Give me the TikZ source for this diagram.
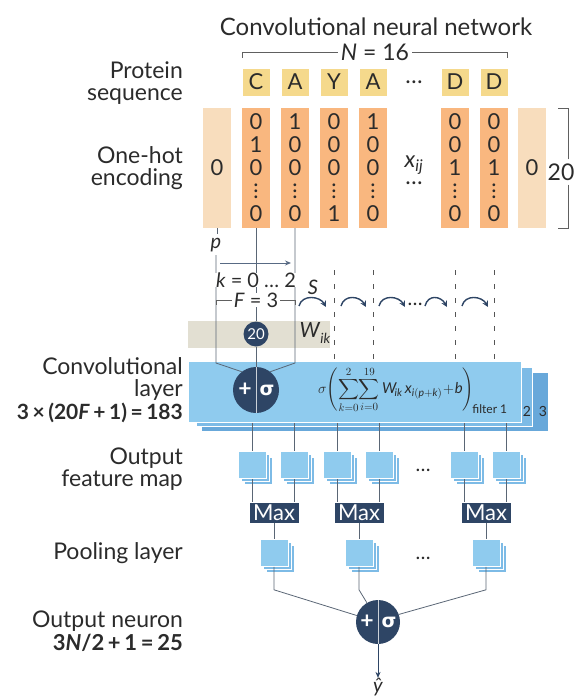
\documentclass[tikz,border=0pt]{standalone}
\usepackage{amsmath}
\usepackage{fontspec}
\setmainfont{Lato}
\newfontfamily\greekfont{DejaVu Sans}
\usetikzlibrary{arrows.meta, shadows, positioning}

\definecolor{ink}{HTML}{2B2B2B}
\definecolor{seqyellow}{HTML}{F5D98C}
\definecolor{hotorange}{HTML}{F9B77F}
\definecolor{padpeach}{HTML}{F8DDBD}
\definecolor{navy}{HTML}{2E4565}
\definecolor{convblue}{HTML}{8FCBEE}
\definecolor{convmid}{HTML}{7DBBE6}
\definecolor{convdark}{HTML}{68A8DA}
\definecolor{wband}{HTML}{E2DFD2}
\definecolor{wiregray}{HTML}{5A6675}

\newcommand{\vdotz}{\vbox{\baselineskip=6pt\lineskiplimit=0pt\hbox{.}\hbox{.}\hbox{.}}}
\newcommand{\hotcolumn}[4]{#1\\#2\\#3\\\vdotz\\#4}

\begin{document}
\begin{tikzpicture}[x=1pt, y=-1pt, >=Stealth,
    txt/.style={inner sep=0pt, text=ink, font=\fontsize{23}{22.5}\selectfont},
    small/.style={txt, font=\fontsize{20}{20}\selectfont},
    lbl/.style={txt, anchor=east, align=right},
    seqbox/.style={txt, fill=seqyellow, minimum width=27pt, minimum height=27pt,
        font=\fontsize{22}{22}\selectfont},
    hotcol/.style={txt, fill=hotorange, minimum width=28pt, minimum height=120pt,
        align=center, font=\fontsize{22}{23}\selectfont},
    padcol/.style={hotcol, fill=padpeach},
    wire/.style={draw=wiregray, line width=0.8pt},
    bracket/.style={draw=ink!75, line width=0.6pt},
    guide/.style={draw=ink!80, line width=0.6pt, dash pattern=on 5pt off 9pt},
    navycirc/.style={circle, fill=navy, inner sep=0pt, text=white},
    stride/.style={-{Stealth[length=6pt, width=6pt]}, draw=navy, line width=1.4pt},
    fmap/.style={fill=convblue, draw=white, line width=0.6pt, minimum width=28pt,
        minimum height=27pt, inner sep=0pt,
        double copy shadow={shadow xshift=3pt, shadow yshift=-3pt, fill=convmid, draw=white}},
    maxbox/.style={fill=navy, text=white, inner sep=0pt, minimum width=49pt,
        minimum height=20pt, font=\fontsize{22}{22}\selectfont}
]
\useasboundingbox (0,0) rectangle (577,699);

% title and sequence
\node[txt, font=\fontsize{24}{24}\selectfont] (title) at (376,27) {Convolutional neural network};
\node[txt, fill=white, inner xsep=3pt] (nlab) at (375,52) {\textit{N} = 16};
\foreach \n/\x/\c in {1/256/C, 2/295/A, 3/334/Y, 4/373/A, 6/455/D, 7/494/D}
    \node[seqbox] (s\n) at (\x,82) {\c};
\node[txt] (sdots) at (414,82) {…};
\draw[bracket] (nlab.west) -- (nlab.west -| s1.west) -- ++(0,6);
\draw[bracket] (nlab.east) -- (nlab.east -| s7.east) -- ++(0,6);

% one-hot encoding
\node[padcol] (padL) at (217,168) {0};
\node[padcol] (padR) at (532,168) {0};
\foreach \n/\x/\a/\b/\c/\d in {1/256/0/1/0/0, 2/295/1/0/0/0, 3/334/0/0/0/1,
        4/373/1/0/0/0, 6/455/0/0/1/0, 7/494/0/0/1/0}
    \node[hotcol] (h\n) at (\x,168) {\hotcolumn{\a}{\b}{\c}{\d}};
\node[txt] (xij) at (414,165) {\textit{x}\textsubscript{\textit{ij}}};
\node[txt] (hdots) at (414,183) {…};
\node[txt] (twenty) at (561,172) {20};
\draw[bracket] (twenty.north -| 568,0) ++(0,-4) -- (padR.north -| 568,0) -- ++(-10,0);
\draw[bracket] (twenty.south -| 568,0) ++(0,4) -- (padR.south -| 568,0) -- ++(-10,0);

% left labels
\node[lbl] (lseq) at (183,83) {Protein\\sequence};
\node[lbl] (lhot) at (183,168) {One-hot\\encoding};
\node[lbl] (lconv) at (183,390) {Convolutional\\layer\\{\fontsize{21}{22.5}\selectfont\textbf{3\,×\,(20\textit{F}\,+\,1)\,=\,183}}};
\node[lbl] (lfeat) at (183,469) {Output\\feature map};
\node[lbl] (lpool) at (183,553) {Pooling layer};
\node[lbl] (lout) at (183,631) {Output neuron\\{\fontsize{22}{22.5}\selectfont\textbf{3\textit{N}/2\,+\,1\,=\,25}}};

% filter window
\fill[wband] (188,321) rectangle (330,348);
\node[txt, font=\fontsize{21}{21}\selectfont] (wik) at (315,333) {\textit{W}\raisebox{-6pt}{\fontsize{14}{14}\selectfont\textit{ik}}};
\fill[convdark] (202,373) rectangle (548,431);
\draw[white, fill=convmid, line width=0.8pt] (196,367) rectangle (532,426);
\node[fill=convblue, draw=white, line width=0.8pt, minimum width=333pt, minimum height=61pt,
    anchor=north west, inner sep=0pt] (conv) at (188,361) {};
\node[txt, font=\fontsize{14}{14}\selectfont] (f2) at (527,411) {2};
\node[txt, font=\fontsize{14}{14}\selectfont] (f3) at (543,411) {3};
\node[txt, font=\fontsize{15}{15}\selectfont, anchor=west] (formula) at (318,390)
    {$\displaystyle\sigma\!\left(\sum_{k=0}^{2}\!\sum_{i=0}^{19}\textit{W}_{\!\textit{ik}}\,\textit{x}_{\textit{i}(\textit{p}+\textit{k})}\!+\!\textit{b}\right)_{\!\text{\fontsize{12}{12}\selectfont filter 1}}$};

\node[navycirc, minimum size=25pt, font=\fontsize{15}{15}\selectfont] (w20) at (256,334) {20};
\node[navycirc, minimum size=46pt] (cn) at (256,390) {};
\draw[white!75!navy, line width=1pt] (cn.north) -- (cn.south);
\node[text=white, font=\bfseries\fontsize{23}{23}\selectfont] (cplus) at ([xshift=-11pt]cn.center) {+};
\node[text=white, font=\greekfont\bfseries\fontsize{19}{19}\selectfont] (csig) at ([xshift=11pt]cn.center) {σ};

% connectors into the convolution
\node[small] (plab) at (216,245) {\textit{p}};
\coordinate (bendl) at (216,363);
\coordinate (bendr) at (295,363);
\draw[wire, line width=0.6pt] (padL.south) -- ++(0,6);
\draw[wire] ([yshift=-3pt]plab.south) -- (bendl) -- (cn.128);
\draw[wire] (h2.south) -- (bendr) -- (cn.52);
\draw[wire] (h1.south) -- (w20.north);
\draw[wire] (w20.south) -- (cn.north);
\coordinate (k0) at (220,263);
\coordinate (k2) at (291,263);
\draw[-{Stealth[length=6pt, width=5pt]}, draw=navy!80, line width=1pt] (k0) -- (k2);
\node[small, fill=white, inner xsep=1pt] (klab) at (256,280) {\textit{k} = 0 … 2};
\node[small, fill=white, inner xsep=2pt] (flab) at (256,300) {\textit{F} = 3};
\draw[bracket] (flab.west) -- (216,300) -- ++(0,5);
\draw[bracket] (flab.east) -- (295,300) -- ++(0,5);

% stride
\coordinate (gtop) at (0,270);
\foreach \n in {3,4,6,7}
    \draw[guide] (h\n.south |- gtop) -- (h\n.south |- conv.north);
\foreach \a/\b in {299/326, 341/366, 379/405, 425/447, 462/488}
    \draw[stride] (\a,306) .. controls +(3,-12) and +(-6,-11) .. (\b,307);
\node[small] (slab) at (313,287) {\textit{S}};
\node[small] (sdotsb) at (415,304) {…};

% output feature map and pooling
\foreach \n/\x in {1/252, 2/294, 3/337, 4/379, 5/464, 6/506}
    \node[fmap] (f\n) at (\x,465) {};
\node[small] (fdots) at (423,470) {…};
\foreach \n/\x in {1/274, 2/359, 3/486}
    \node[maxbox] (m\n) at (\x,512.5) {Max};
\foreach \n/\x in {1/274, 2/359, 3/486}
    \node[fmap] (q\n) at (\x,553) {};
\node[small] (qdots) at (423,558) {…};
\foreach \n/\m in {1/1, 2/1, 3/2, 4/2, 5/3, 6/3} {
    \draw[wire] (f\n.north |- conv.south) -- (f\n.north);
    \draw[wire] (f\n.south) -- (f\n.south |- m\m.north);
}
\foreach \n in {1,2,3}
    \draw[wire] (m\n.south) -- (q\n.north);

% output neuron
\node[navycirc, minimum size=44pt] (out) at (378,622) {};
\draw[white!75!navy, line width=1pt] (out.north) -- (out.south);
\node[text=white, font=\bfseries\fontsize{23}{23}\selectfont] (oplus) at ([xshift=-11pt]out.center) {+};
\node[text=white, font=\greekfont\bfseries\fontsize{19}{19}\selectfont] (osig) at ([xshift=11pt]out.center) {σ};
\draw[wire] (q1.south) -- ++(0,23) -- (out.163);
\draw[wire] (q2.south) -- ++(0,23) -- (out.120);
\draw[wire] (q3.south) -- ++(0,23) -- (out.20);
\node[small] (yhat) at (378,687) {\textit{ŷ}};
\draw[-{Stealth[length=6pt, width=5pt]}, draw=navy, line width=1pt] (out.south) -- (yhat.north);
\end{tikzpicture}
\end{document}
